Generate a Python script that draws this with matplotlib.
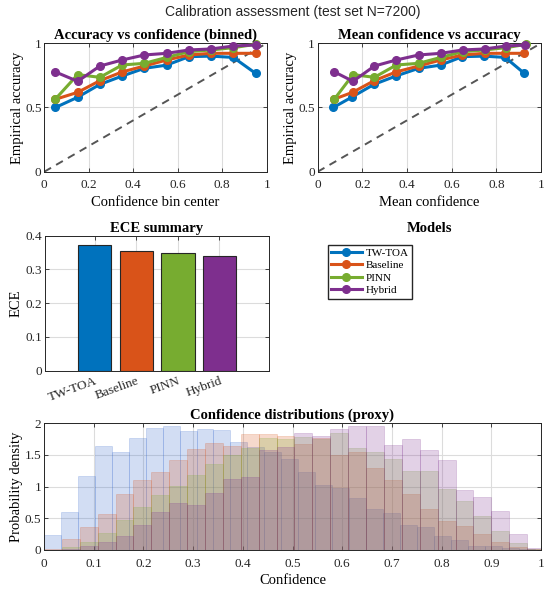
import numpy as np
import matplotlib
matplotlib.use('Agg')
import matplotlib.pyplot as plt

# model names and colours (MATLAB default order)
models = ['TW-TOA', 'Baseline', 'PINN', 'Hybrid']
line_colors = ['#0072BD', '#D95319', '#77AC30', '#7E2F8E']
hist_colors = [(0.2, 0.4, 0.8), (0.85, 0.33, 0.1), (0.47, 0.67, 0.19), (0.49, 0.18, 0.56)]

# reliability data, binned
bin_centers = [0.05, 0.15, 0.25, 0.35, 0.45, 0.55, 0.65, 0.75, 0.85, 0.95]
acc_tw = [0.50, 0.58, 0.68, 0.745, 0.805, 0.83, 0.896, 0.90, 0.89, 0.766]
acc_base = [0.564, 0.618, 0.709, 0.777, 0.823, 0.87, 0.909, 0.922, 0.922, 0.922]
acc_pinn = [0.566, 0.756, 0.735, 0.831, 0.844, 0.89, 0.935, 0.948, 0.966, 0.992]
acc_hyb = [0.777, 0.704, 0.823, 0.87, 0.909, 0.922, 0.948, 0.956, 0.979, 0.987]

# mean confidence inside each bin
conf_tw = [0.070, 0.152, 0.252, 0.350, 0.452, 0.550, 0.648, 0.746, 0.840, 0.925]
conf_base = [0.072, 0.156, 0.253, 0.351, 0.452, 0.551, 0.648, 0.747, 0.841, 0.925]
conf_pinn = [0.075, 0.158, 0.254, 0.352, 0.452, 0.551, 0.649, 0.748, 0.843, 0.934]
conf_hyb = [0.075, 0.158, 0.254, 0.352, 0.452, 0.551, 0.649, 0.748, 0.843, 0.930]

# expected calibration error
ece = [0.373, 0.355, 0.350, 0.340]

# confidence histograms (density), each model has its own bin width
hist_width_tw = 0.0341
hist_tw = [0.23, 0.60, 1.17, 1.63, 1.55, 1.77, 1.92, 1.95, 1.87, 1.91, 1.89, 1.70, 1.62, 1.55,
           1.43, 1.23, 1.02, 0.97, 0.82, 0.65, 0.58, 0.40, 0.37, 0.22, 0.15, 0.07, 0.06, 0.03, 0.01]
hist_width = 0.036
hist_base = [0.01, 0.17, 0.36, 0.56, 0.88, 1.105, 1.23, 1.41, 1.59, 1.68, 1.64, 1.83, 1.82, 1.80,
             1.67, 1.76, 1.50, 1.55, 1.29, 1.10, 0.88, 0.64, 0.46, 0.38, 0.25, 0.12, 0.04, 0.01]
hist_pinn = [0.0, 0.05, 0.13, 0.26, 0.48, 0.67, 0.87, 1.01, 1.18, 1.35, 1.50, 1.60, 1.77, 1.75,
             1.78, 1.75, 1.84, 1.60, 1.54, 1.43, 1.25, 1.24, 0.96, 0.77, 0.54, 0.30, 0.11, 0.02]
hist_hyb = [0.0, 0.01, 0.07, 0.13, 0.22, 0.40, 0.60, 0.74, 0.71, 0.90, 1.12, 1.15, 1.58, 1.62,
            1.84, 1.79, 1.91, 1.96, 1.95, 1.66, 1.75, 1.58, 1.41, 0.94, 0.84, 0.62, 0.25, 0.03]

accs = [acc_tw, acc_base, acc_pinn, acc_hyb]
confs = [conf_tw, conf_base, conf_pinn, conf_hyb]
hists = [hist_tw, hist_base, hist_pinn, hist_hyb]
widths = [hist_width_tw, hist_width, hist_width, hist_width]

plt.rcParams['font.family'] = 'Liberation Serif'
plt.rcParams['axes.edgecolor'] = '#262626'
plt.rcParams['axes.linewidth'] = 0.7

fig = plt.figure(figsize=(5.5, 5.92), dpi=100)

W, H = 550.0, 592.0
def box(x0, y0, x1, y1):
    return [x0 / W, 1 - y1 / H, (x1 - x0) / W, (y1 - y0) / H]

def matlab_style(ax, xpad=5.5):
    ax.tick_params(direction='in', top=True, right=True, length=3, width=0.6,
                   labelsize=9.5, colors='#262626', pad=2)
    ax.tick_params(axis='x', pad=xpad)
    ax.grid(True, color='#dcdcdc', linewidth=0.8)
    ax.set_axisbelow(True)

ax1 = fig.add_axes(box(44.3, 43.3, 266.7, 171.7))
ax2 = fig.add_axes(box(317.7, 43.3, 541, 171.7))
ax3 = fig.add_axes(box(44.7, 235.7, 269.4, 370.5))
ax_leg = fig.add_axes(box(317.7, 235.7, 541, 370.5))
ax4 = fig.add_axes(box(44, 423, 541, 550))

# top left: accuracy vs bin center
handles = []
for i in range(4):
    h, = ax1.plot(bin_centers, accs[i], '-o', color=line_colors[i], lw=2.2, ms=5.5,
                  mfc=line_colors[i], mec=line_colors[i], clip_on=False, zorder=3)
    handles.append(h)
ax1.plot([0, 1], [0, 1], '--', color='#555555', lw=1.4, dashes=(4, 3), zorder=2)
ax1.set_title('Accuracy vs confidence (binned)', fontsize=10.5, fontweight='bold', pad=3)
ax1.set_xlabel('Confidence bin center', fontsize=10.5, labelpad=3)
ax1.set_ylabel('Empirical accuracy', fontsize=10.5, labelpad=1)

# top right: accuracy vs mean confidence
for i in range(4):
    ax2.plot(confs[i], accs[i], '-o', color=line_colors[i], lw=2.2, ms=5.5,
             mfc=line_colors[i], mec=line_colors[i], clip_on=False, zorder=3)
ax2.plot([0, 1], [0, 1], '--', color='#555555', lw=1.4, dashes=(4, 3), zorder=2)
ax2.set_title('Mean confidence vs accuracy', fontsize=10.5, fontweight='bold', pad=3)
ax2.set_xlabel('Mean confidence', fontsize=10.5, labelpad=3)
ax2.set_ylabel('Empirical accuracy', fontsize=10.5, labelpad=1)

for ax in (ax1, ax2):
    ax.set_xlim(0, 1)
    ax.set_ylim(0, 1)
    ax.set_xticks([0, 0.2, 0.4, 0.6, 0.8, 1])
    ax.set_xticklabels(['0', '0.2', '0.4', '0.6', '0.8', '1'])
    ax.set_yticks([0, 0.5, 1])
    ax.set_yticklabels(['0', '0.5', '1'])
    matlab_style(ax)

# ECE bars
pos = np.arange(1, 5)
ax3.bar(pos, ece, width=0.8, color=line_colors, edgecolor='#262626', linewidth=0.8, zorder=3)
ax3.set_xlim(-0.2, 5.2)
ax3.set_ylim(0, 0.4)
ax3.set_xticks(pos)
ax3.set_xticklabels(models, rotation=20, ha='right', rotation_mode='anchor')
ax3.set_yticks([0, 0.1, 0.2, 0.3, 0.4])
ax3.set_yticklabels(['0', '0.1', '0.2', '0.3', '0.4'])
ax3.set_title('ECE summary', fontsize=10.5, fontweight='bold', pad=3)
ax3.set_ylabel('ECE', fontsize=10.5, labelpad=2)
matlab_style(ax3, xpad=3.5)

# legend panel
ax_leg.axis('off')
ax_leg.set_title('Models', fontsize=10.5, fontweight='bold', pad=3)
fig.legend(handles, models, loc='upper left', bbox_to_anchor=(322 / W, 1 - 239 / H),
           fontsize=8, handlelength=2.8, labelspacing=0.25, borderpad=0.3,
           handletextpad=0.3, fancybox=False, edgecolor='#262626', framealpha=1)

# confidence distributions
for i in range(4):
    lefts = np.arange(len(hists[i])) * widths[i]
    ax4.bar(lefts, hists[i], width=widths[i], align='edge', color=hist_colors[i], alpha=0.22,
            edgecolor=hist_colors[i], linewidth=0.6, zorder=2)
ax4.set_xlim(0, 1)
ax4.set_ylim(0, 2)
ax4.set_xticks(np.round(np.arange(0, 1.01, 0.1), 1))
ax4.set_xticklabels(['0', '0.1', '0.2', '0.3', '0.4', '0.5', '0.6', '0.7', '0.8', '0.9', '1'])
ax4.set_yticks([0, 0.5, 1, 1.5, 2])
ax4.set_yticklabels(['0', '0.5', '1', '1.5', '2'])
ax4.set_title('Confidence distributions (proxy)', fontsize=10.5, fontweight='bold', pad=3)
ax4.set_xlabel('Confidence', fontsize=10.5, labelpad=3)
ax4.set_ylabel('Probability density', fontsize=10.5, labelpad=1)
matlab_style(ax4)

fig.text(292.5 / W, 1 - 12 / H, 'Calibration assessment (test set N=7200)', ha='center', va='center',
         fontsize=10, family='Liberation Sans', color='#262626')

fig.savefig('out.png', dpi=100)
